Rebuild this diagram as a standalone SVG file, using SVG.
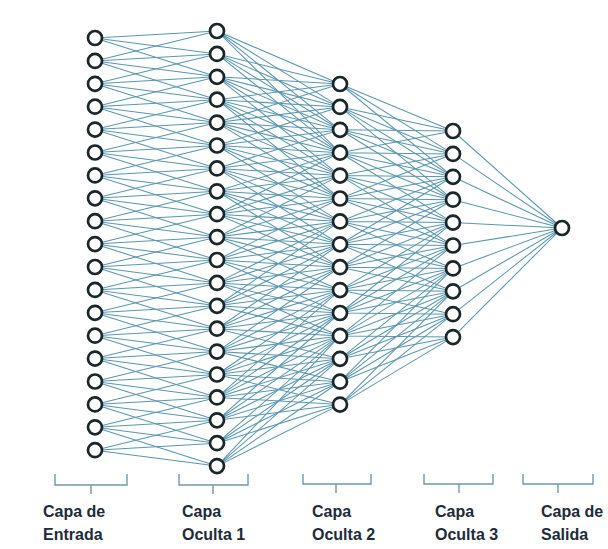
<svg xmlns="http://www.w3.org/2000/svg" width="608" height="549" viewBox="0 0 608 549">
  <style>
    .link { fill: none; stroke: #5a96b0; stroke-width: 1.05; }
    .neuron { fill: #ffffff; stroke: #1b2628; stroke-width: 2.7; }
    .brace { fill: none; stroke: #6f98aa; stroke-width: 1.4; }
    .label { font-family: "Liberation Sans", Arial, sans-serif; font-weight: 700; font-size: 16px; fill: #1d2b3a; }
  </style>
  <rect width="608" height="549" fill="#ffffff"/>

  <!-- weighted links between layers -->
  <g id="connectors">
    <!-- input -> hidden 1 -->
    <path class="link" d="M95 38L217 31M95 38L217 53.9M95 38L217 76.8"/>
    <path class="link" d="M95 60.9L217 31M95 60.9L217 53.9M95 60.9L217 76.8M95 60.9L217 99.7"/>
    <path class="link" d="M95 83.8L217 53.9M95 83.8L217 76.8M95 83.8L217 99.7M95 83.8L217 122.6"/>
    <path class="link" d="M95 106.7L217 76.8M95 106.7L217 99.7M95 106.7L217 122.6M95 106.7L217 145.5"/>
    <path class="link" d="M95 129.6L217 99.7M95 129.6L217 122.6M95 129.6L217 145.5M95 129.6L217 168.4"/>
    <path class="link" d="M95 152.5L217 122.6M95 152.5L217 145.5M95 152.5L217 168.4M95 152.5L217 191.3"/>
    <path class="link" d="M95 175.4L217 145.5M95 175.4L217 168.4M95 175.4L217 191.3M95 175.4L217 214.2"/>
    <path class="link" d="M95 198.3L217 168.4M95 198.3L217 191.3M95 198.3L217 214.2M95 198.3L217 237.1"/>
    <path class="link" d="M95 221.2L217 191.3M95 221.2L217 214.2M95 221.2L217 237.1M95 221.2L217 260"/>
    <path class="link" d="M95 244.1L217 214.2M95 244.1L217 237.1M95 244.1L217 260M95 244.1L217 282.9"/>
    <path class="link" d="M95 267L217 237.1M95 267L217 260M95 267L217 282.9M95 267L217 305.8"/>
    <path class="link" d="M95 289.9L217 260M95 289.9L217 282.9M95 289.9L217 305.8M95 289.9L217 328.7"/>
    <path class="link" d="M95 312.8L217 282.9M95 312.8L217 305.8M95 312.8L217 328.7M95 312.8L217 351.6"/>
    <path class="link" d="M95 335.7L217 305.8M95 335.7L217 328.7M95 335.7L217 351.6M95 335.7L217 374.5"/>
    <path class="link" d="M95 358.6L217 328.7M95 358.6L217 351.6M95 358.6L217 374.5M95 358.6L217 397.4"/>
    <path class="link" d="M95 381.5L217 351.6M95 381.5L217 374.5M95 381.5L217 397.4M95 381.5L217 420.3"/>
    <path class="link" d="M95 404.4L217 374.5M95 404.4L217 397.4M95 404.4L217 420.3M95 404.4L217 443.2"/>
    <path class="link" d="M95 427.3L217 397.4M95 427.3L217 420.3M95 427.3L217 443.2M95 427.3L217 466.1"/>
    <path class="link" d="M95 450.2L217 420.3M95 450.2L217 443.2M95 450.2L217 466.1"/>

    <!-- hidden 1 -> hidden 2 -->
    <path class="link" d="M217 31L340 84M217 31L340 106.9M217 31L340 129.8M217 31L340 152.7"/>
    <path class="link" d="M217 53.9L340 84M217 53.9L340 106.9M217 53.9L340 129.8M217 53.9L340 152.7"/>
    <path class="link" d="M217 76.8L340 84M217 76.8L340 106.9M217 76.8L340 129.8M217 76.8L340 152.7M217 76.8L340 175.6"/>
    <path class="link" d="M217 99.7L340 84M217 99.7L340 106.9M217 99.7L340 129.8M217 99.7L340 152.7M217 99.7L340 175.6M217 99.7L340 198.5"/>
    <path class="link" d="M217 122.6L340 84M217 122.6L340 106.9M217 122.6L340 129.8M217 122.6L340 152.7M217 122.6L340 175.6M217 122.6L340 198.5"/>
    <path class="link" d="M217 145.5L340 106.9M217 145.5L340 129.8M217 145.5L340 152.7M217 145.5L340 175.6M217 145.5L340 198.5M217 145.5L340 221.4"/>
    <path class="link" d="M217 168.4L340 129.8M217 168.4L340 152.7M217 168.4L340 175.6M217 168.4L340 198.5M217 168.4L340 221.4M217 168.4L340 244.3"/>
    <path class="link" d="M217 191.3L340 152.7M217 191.3L340 175.6M217 191.3L340 198.5M217 191.3L340 221.4M217 191.3L340 244.3M217 191.3L340 267.2"/>
    <path class="link" d="M217 214.2L340 152.7M217 214.2L340 175.6M217 214.2L340 198.5M217 214.2L340 221.4M217 214.2L340 244.3M217 214.2L340 267.2"/>
    <path class="link" d="M217 237.1L340 175.6M217 237.1L340 198.5M217 237.1L340 221.4M217 237.1L340 244.3M217 237.1L340 267.2M217 237.1L340 290.1"/>
    <path class="link" d="M217 260L340 198.5M217 260L340 221.4M217 260L340 244.3M217 260L340 267.2M217 260L340 290.1M217 260L340 313"/>
    <path class="link" d="M217 282.9L340 221.4M217 282.9L340 244.3M217 282.9L340 267.2M217 282.9L340 290.1M217 282.9L340 313M217 282.9L340 335.9"/>
    <path class="link" d="M217 305.8L340 221.4M217 305.8L340 244.3M217 305.8L340 267.2M217 305.8L340 290.1M217 305.8L340 313M217 305.8L340 335.9"/>
    <path class="link" d="M217 328.7L340 244.3M217 328.7L340 267.2M217 328.7L340 290.1M217 328.7L340 313M217 328.7L340 335.9M217 328.7L340 358.8"/>
    <path class="link" d="M217 351.6L340 267.2M217 351.6L340 290.1M217 351.6L340 313M217 351.6L340 335.9M217 351.6L340 358.8M217 351.6L340 381.7"/>
    <path class="link" d="M217 374.5L340 290.1M217 374.5L340 313M217 374.5L340 335.9M217 374.5L340 358.8M217 374.5L340 381.7M217 374.5L340 404.6"/>
    <path class="link" d="M217 397.4L340 290.1M217 397.4L340 313M217 397.4L340 335.9M217 397.4L340 358.8M217 397.4L340 381.7M217 397.4L340 404.6"/>
    <path class="link" d="M217 420.3L340 313M217 420.3L340 335.9M217 420.3L340 358.8M217 420.3L340 381.7M217 420.3L340 404.6"/>
    <path class="link" d="M217 443.2L340 335.9M217 443.2L340 358.8M217 443.2L340 381.7M217 443.2L340 404.6"/>
    <path class="link" d="M217 466.1L340 335.9M217 466.1L340 358.8M217 466.1L340 381.7M217 466.1L340 404.6"/>

    <!-- hidden 2 -> hidden 3 -->
    <path class="link" d="M340 84L453 131M340 84L453 153.9M340 84L453 176.8"/>
    <path class="link" d="M340 106.9L453 131M340 106.9L453 153.9M340 106.9L453 176.8M340 106.9L453 199.7"/>
    <path class="link" d="M340 129.8L453 131M340 129.8L453 153.9M340 129.8L453 176.8M340 129.8L453 199.7"/>
    <path class="link" d="M340 152.7L453 131M340 152.7L453 153.9M340 152.7L453 176.8M340 152.7L453 199.7M340 152.7L453 222.6"/>
    <path class="link" d="M340 175.6L453 153.9M340 175.6L453 176.8M340 175.6L453 199.7M340 175.6L453 222.6M340 175.6L453 245.5"/>
    <path class="link" d="M340 198.5L453 153.9M340 198.5L453 176.8M340 198.5L453 199.7M340 198.5L453 222.6M340 198.5L453 245.5"/>
    <path class="link" d="M340 221.4L453 176.8M340 221.4L453 199.7M340 221.4L453 222.6M340 221.4L453 245.5M340 221.4L453 268.4"/>
    <path class="link" d="M340 244.3L453 176.8M340 244.3L453 199.7M340 244.3L453 222.6M340 244.3L453 245.5M340 244.3L453 268.4M340 244.3L453 291.3"/>
    <path class="link" d="M340 267.2L453 199.7M340 267.2L453 222.6M340 267.2L453 245.5M340 267.2L453 268.4M340 267.2L453 291.3"/>
    <path class="link" d="M340 290.1L453 222.6M340 290.1L453 245.5M340 290.1L453 268.4M340 290.1L453 291.3M340 290.1L453 314.2"/>
    <path class="link" d="M340 313L453 222.6M340 313L453 245.5M340 313L453 268.4M340 313L453 291.3M340 313L453 314.2"/>
    <path class="link" d="M340 335.9L453 245.5M340 335.9L453 268.4M340 335.9L453 291.3M340 335.9L453 314.2M340 335.9L453 337.1"/>
    <path class="link" d="M340 358.8L453 268.4M340 358.8L453 291.3M340 358.8L453 314.2M340 358.8L453 337.1"/>
    <path class="link" d="M340 381.7L453 268.4M340 381.7L453 291.3M340 381.7L453 314.2M340 381.7L453 337.1"/>
    <path class="link" d="M340 404.6L453 291.3M340 404.6L453 314.2M340 404.6L453 337.1"/>

    <!-- hidden 3 -> output -->
    <path class="link" d="M453 131L562 228M453 153.9L562 228M453 176.8L562 228M453 199.7L562 228M453 222.6L562 228M453 245.5L562 228M453 268.4L562 228M453 291.3L562 228M453 314.2L562 228M453 337.1L562 228"/>
  </g>

  <!-- input layer -->
  <g id="layer-input">
    <g id="in-1"><circle class="neuron" cx="95" cy="38" r="7"/></g>
    <g id="in-2"><circle class="neuron" cx="95" cy="60.9" r="7"/></g>
    <g id="in-3"><circle class="neuron" cx="95" cy="83.8" r="7"/></g>
    <g id="in-4"><circle class="neuron" cx="95" cy="106.7" r="7"/></g>
    <g id="in-5"><circle class="neuron" cx="95" cy="129.6" r="7"/></g>
    <g id="in-6"><circle class="neuron" cx="95" cy="152.5" r="7"/></g>
    <g id="in-7"><circle class="neuron" cx="95" cy="175.4" r="7"/></g>
    <g id="in-8"><circle class="neuron" cx="95" cy="198.3" r="7"/></g>
    <g id="in-9"><circle class="neuron" cx="95" cy="221.2" r="7"/></g>
    <g id="in-10"><circle class="neuron" cx="95" cy="244.1" r="7"/></g>
    <g id="in-11"><circle class="neuron" cx="95" cy="267" r="7"/></g>
    <g id="in-12"><circle class="neuron" cx="95" cy="289.9" r="7"/></g>
    <g id="in-13"><circle class="neuron" cx="95" cy="312.8" r="7"/></g>
    <g id="in-14"><circle class="neuron" cx="95" cy="335.7" r="7"/></g>
    <g id="in-15"><circle class="neuron" cx="95" cy="358.6" r="7"/></g>
    <g id="in-16"><circle class="neuron" cx="95" cy="381.5" r="7"/></g>
    <g id="in-17"><circle class="neuron" cx="95" cy="404.4" r="7"/></g>
    <g id="in-18"><circle class="neuron" cx="95" cy="427.3" r="7"/></g>
    <g id="in-19"><circle class="neuron" cx="95" cy="450.2" r="7"/></g>
  </g>

  <!-- hidden layer 1 -->
  <g id="layer-hidden1">
    <g id="h1-1"><circle class="neuron" cx="217" cy="31" r="7"/></g>
    <g id="h1-2"><circle class="neuron" cx="217" cy="53.9" r="7"/></g>
    <g id="h1-3"><circle class="neuron" cx="217" cy="76.8" r="7"/></g>
    <g id="h1-4"><circle class="neuron" cx="217" cy="99.7" r="7"/></g>
    <g id="h1-5"><circle class="neuron" cx="217" cy="122.6" r="7"/></g>
    <g id="h1-6"><circle class="neuron" cx="217" cy="145.5" r="7"/></g>
    <g id="h1-7"><circle class="neuron" cx="217" cy="168.4" r="7"/></g>
    <g id="h1-8"><circle class="neuron" cx="217" cy="191.3" r="7"/></g>
    <g id="h1-9"><circle class="neuron" cx="217" cy="214.2" r="7"/></g>
    <g id="h1-10"><circle class="neuron" cx="217" cy="237.1" r="7"/></g>
    <g id="h1-11"><circle class="neuron" cx="217" cy="260" r="7"/></g>
    <g id="h1-12"><circle class="neuron" cx="217" cy="282.9" r="7"/></g>
    <g id="h1-13"><circle class="neuron" cx="217" cy="305.8" r="7"/></g>
    <g id="h1-14"><circle class="neuron" cx="217" cy="328.7" r="7"/></g>
    <g id="h1-15"><circle class="neuron" cx="217" cy="351.6" r="7"/></g>
    <g id="h1-16"><circle class="neuron" cx="217" cy="374.5" r="7"/></g>
    <g id="h1-17"><circle class="neuron" cx="217" cy="397.4" r="7"/></g>
    <g id="h1-18"><circle class="neuron" cx="217" cy="420.3" r="7"/></g>
    <g id="h1-19"><circle class="neuron" cx="217" cy="443.2" r="7"/></g>
    <g id="h1-20"><circle class="neuron" cx="217" cy="466.1" r="7"/></g>
  </g>

  <!-- hidden layer 2 -->
  <g id="layer-hidden2">
    <g id="h2-1"><circle class="neuron" cx="340" cy="84" r="7"/></g>
    <g id="h2-2"><circle class="neuron" cx="340" cy="106.9" r="7"/></g>
    <g id="h2-3"><circle class="neuron" cx="340" cy="129.8" r="7"/></g>
    <g id="h2-4"><circle class="neuron" cx="340" cy="152.7" r="7"/></g>
    <g id="h2-5"><circle class="neuron" cx="340" cy="175.6" r="7"/></g>
    <g id="h2-6"><circle class="neuron" cx="340" cy="198.5" r="7"/></g>
    <g id="h2-7"><circle class="neuron" cx="340" cy="221.4" r="7"/></g>
    <g id="h2-8"><circle class="neuron" cx="340" cy="244.3" r="7"/></g>
    <g id="h2-9"><circle class="neuron" cx="340" cy="267.2" r="7"/></g>
    <g id="h2-10"><circle class="neuron" cx="340" cy="290.1" r="7"/></g>
    <g id="h2-11"><circle class="neuron" cx="340" cy="313" r="7"/></g>
    <g id="h2-12"><circle class="neuron" cx="340" cy="335.9" r="7"/></g>
    <g id="h2-13"><circle class="neuron" cx="340" cy="358.8" r="7"/></g>
    <g id="h2-14"><circle class="neuron" cx="340" cy="381.7" r="7"/></g>
    <g id="h2-15"><circle class="neuron" cx="340" cy="404.6" r="7"/></g>
  </g>

  <!-- hidden layer 3 -->
  <g id="layer-hidden3">
    <g id="h3-1"><circle class="neuron" cx="453" cy="131" r="7"/></g>
    <g id="h3-2"><circle class="neuron" cx="453" cy="153.9" r="7"/></g>
    <g id="h3-3"><circle class="neuron" cx="453" cy="176.8" r="7"/></g>
    <g id="h3-4"><circle class="neuron" cx="453" cy="199.7" r="7"/></g>
    <g id="h3-5"><circle class="neuron" cx="453" cy="222.6" r="7"/></g>
    <g id="h3-6"><circle class="neuron" cx="453" cy="245.5" r="7"/></g>
    <g id="h3-7"><circle class="neuron" cx="453" cy="268.4" r="7"/></g>
    <g id="h3-8"><circle class="neuron" cx="453" cy="291.3" r="7"/></g>
    <g id="h3-9"><circle class="neuron" cx="453" cy="314.2" r="7"/></g>
    <g id="h3-10"><circle class="neuron" cx="453" cy="337.1" r="7"/></g>
  </g>

  <!-- output layer -->
  <g id="layer-output">
    <g id="out-1"><circle class="neuron" cx="562" cy="228" r="7"/></g>
  </g>

  <!-- layer braces and captions -->
  <g id="captions">
    <path class="brace" d="M55 474V485H127V474M91 485V494"/>
    <path class="brace" d="M179 474V485H248V474M213 485V494"/>
    <path class="brace" d="M303 474V484H371V474M336 484V493"/>
    <path class="brace" d="M424 474V484H493V474M459 484V493"/>
    <path class="brace" d="M523 474V484H593V474M558 484V493"/>
    <text class="label" x="43" y="517">Capa de</text>
    <text class="label" x="43" y="540">Entrada</text>
    <text class="label" x="182" y="517">Capa</text>
    <text class="label" x="182" y="540">Oculta 1</text>
    <text class="label" x="312" y="517">Capa</text>
    <text class="label" x="312" y="540">Oculta 2</text>
    <text class="label" x="435" y="517">Capa</text>
    <text class="label" x="435" y="540">Oculta 3</text>
    <text class="label" x="541" y="517">Capa de</text>
    <text class="label" x="541" y="540">Salida</text>
  </g>
</svg>
